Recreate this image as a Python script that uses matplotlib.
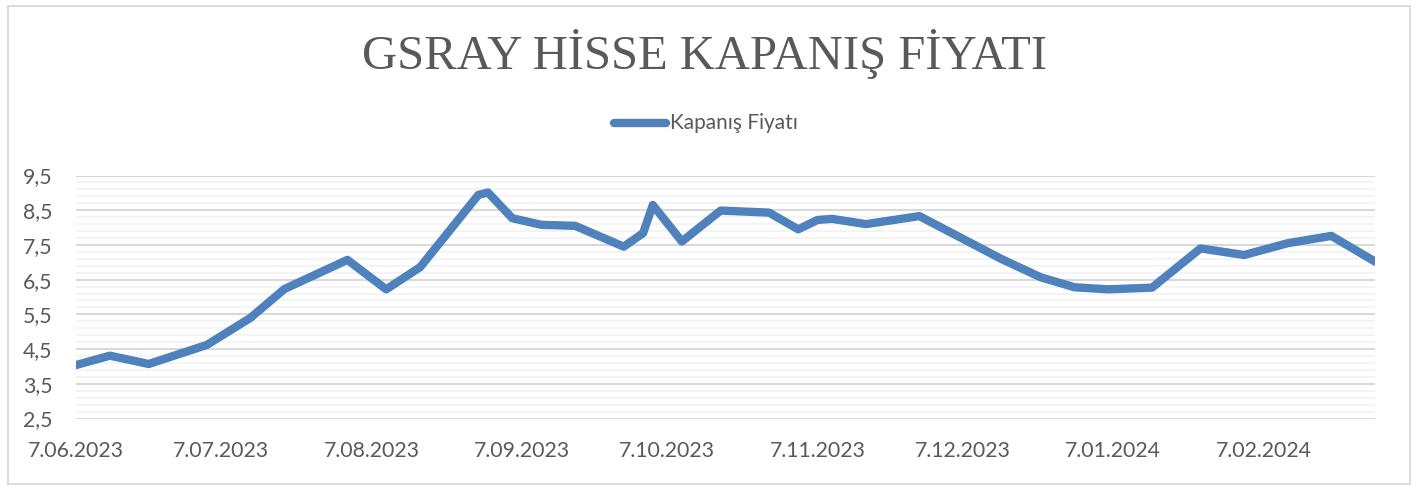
import matplotlib
matplotlib.use("Agg")
import matplotlib.pyplot as plt
from matplotlib.patches import Rectangle
import pandas as pd
import numpy as np

# ---- data ----
dates = ["2023-06-07", "2023-06-14", "2023-06-22", "2023-07-04", "2023-07-13",
         "2023-07-20", "2023-08-02", "2023-08-10", "2023-08-17", "2023-08-29",
         "2023-08-31", "2023-09-05", "2023-09-11", "2023-09-18", "2023-09-28",
         "2023-10-02", "2023-10-04", "2023-10-10", "2023-10-18", "2023-10-28",
         "2023-11-03", "2023-11-07", "2023-11-10", "2023-11-17", "2023-11-28",
         "2023-12-15", "2023-12-23", "2023-12-30", "2024-01-06", "2024-01-15",
         "2024-01-25", "2024-02-03", "2024-02-12", "2024-02-21", "2024-03-01"]
prices = [4.04, 4.31, 4.07, 4.62, 5.40,
          6.23, 7.07, 6.22, 6.86, 8.94,
          9.01, 8.27, 8.08, 8.05, 7.45,
          7.84, 8.65, 7.60, 8.49, 8.43,
          7.95, 8.22, 8.25, 8.10, 8.33,
          7.09, 6.57, 6.28, 6.22, 6.27,
          7.40, 7.21, 7.55, 7.76, 7.02]
tick_dates = ["2023-06-07", "2023-07-07", "2023-08-07", "2023-09-07", "2023-10-07",
              "2023-11-07", "2023-12-07", "2024-01-07", "2024-02-07"]
tick_labels = ["7.06.2023", "7.07.2023", "7.08.2023", "7.09.2023", "7.10.2023",
               "7.11.2023", "7.12.2023", "7.01.2024", "7.02.2024"]
y_ticks = [2.5, 3.5, 4.5, 5.5, 6.5, 7.5, 8.5, 9.5]
y_tick_labels = ["2,5", "3,5", "4,5", "5,5", "6,5", "7,5", "8,5", "9,5"]
title = "GSRAY HİSSE KAPANIŞ FİYATI"
series_name = "Kapanış Fiyatı"

W, H = 1420, 486
fig = plt.figure(figsize=(W / 100, H / 100), dpi=100)
fig.patch.set_facecolor("white")

# outer border
fig.add_artist(Rectangle((8 / W, 2 / H), (1410 - 8) / W, (480 - 2) / H,
                         transform=fig.transFigure, fill=False,
                         edgecolor="#d9d9d9", linewidth=1.3))

left, right = 76 / W, 1375 / W
bottom, top = (H - 418.5) / H, (H - 175.5) / H
ax = fig.add_axes([left, bottom, right - left, top - bottom])

x = pd.to_datetime(dates)
line_color = "#4f81bd"
ax.plot(x, prices, color=line_color, linewidth=6.0, solid_capstyle="round",
        solid_joinstyle="round", zorder=3)

ax.set_xlim(x[0], x[-1])
ax.set_ylim(2.5, 9.5)

ax.set_yticks(y_ticks)
ax.set_yticklabels(y_tick_labels)
ax.set_yticks(np.arange(2.5, 9.5001, 0.2), minor=True)
ax.set_xticks(pd.to_datetime(tick_dates))
ax.set_xticklabels(tick_labels)

ax.grid(True, axis="y", which="major", color="#d9d9d9", linewidth=1.5, zorder=0)
ax.grid(True, axis="y", which="minor", color="#f2f2f2", linewidth=1.2, zorder=0)
ax.grid(False, axis="x")
ax.set_axisbelow(True)
for s in ax.spines.values():
    s.set_visible(False)

ax.tick_params(axis="both", which="both", length=0)
ax.tick_params(axis="y", pad=17)
ax.tick_params(axis="x", pad=16)
for lab in ax.get_xticklabels() + ax.get_yticklabels():
    lab.set_fontfamily("Lato")
    lab.set_fontsize(15.3)
    lab.set_color("#595959")

# title
fig.text(705 / W, 1 - 54 / H, title, ha="center", va="center",
         fontsize=35, family="Liberation Serif", color="#595959")

# legend
ly = 1 - 123 / H
fig.add_artist(plt.Line2D([614 / W, 666 / W], [ly, ly], transform=fig.transFigure,
                          color=line_color, linewidth=6.0, solid_capstyle="round"))
fig.text(670 / W, ly, series_name, ha="left", va="center",
         fontsize=15, family="Lato", color="#595959")

fig.savefig("out.png", dpi=100, facecolor="white")
